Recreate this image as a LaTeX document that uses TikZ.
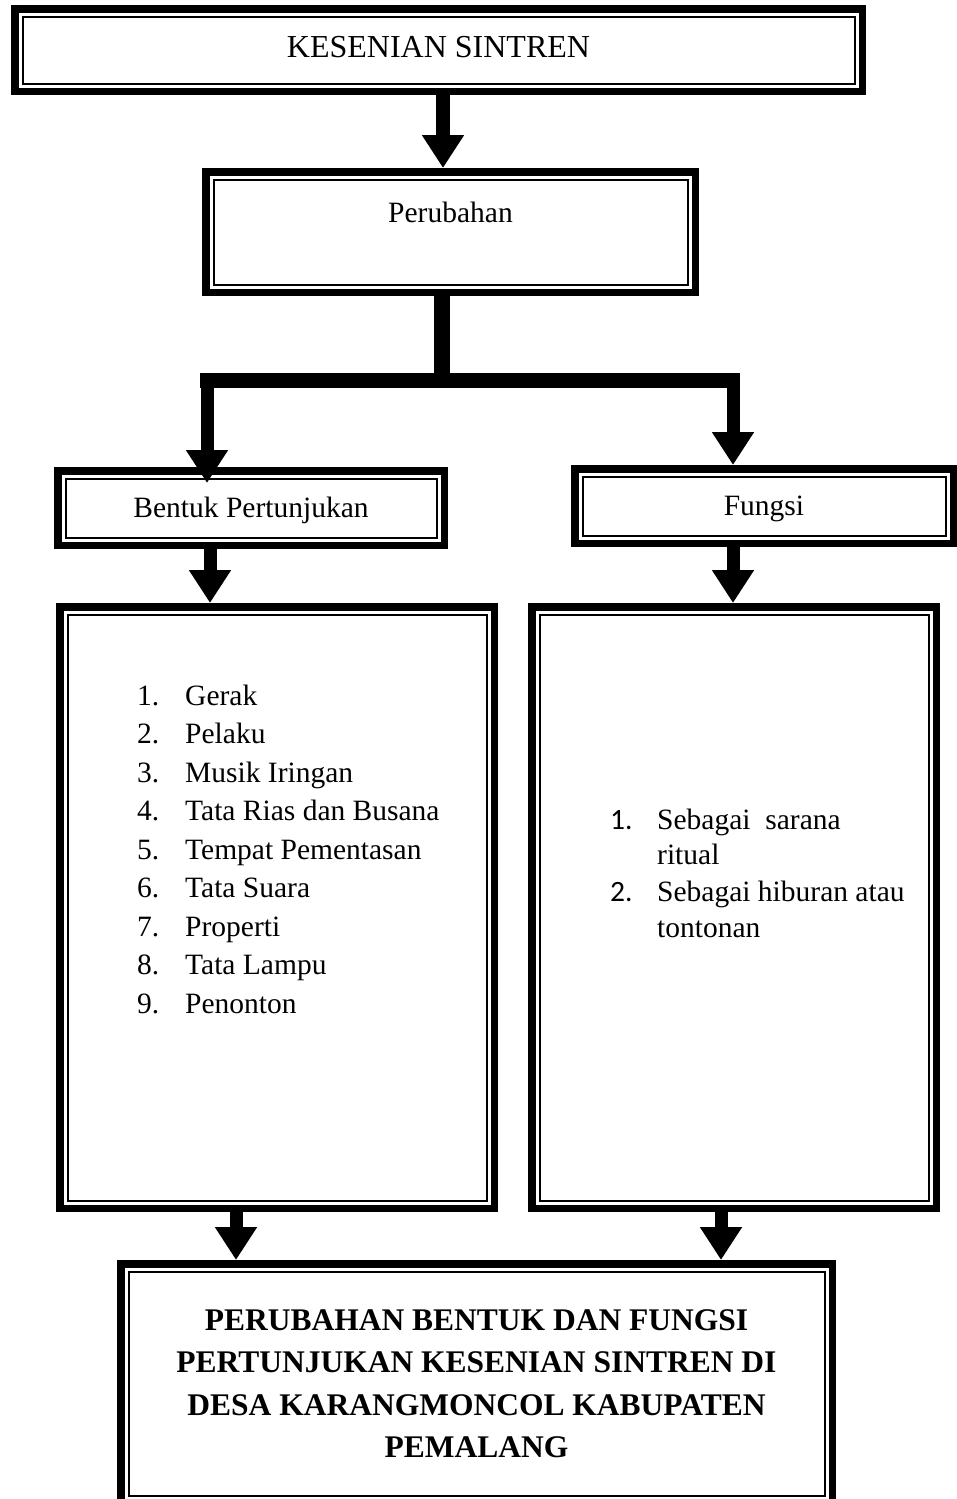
\documentclass[tikz,border=0pt]{standalone}
\usepackage{fontspec}
\setmainfont{Liberation Serif}
\newfontfamily\calib{Carlito}
\usetikzlibrary{arrows.meta}
\begin{document}
\begin{tikzpicture}[x=1pt,y=-1pt,
  frame/.style={draw, line width=7.5pt, inner sep=0pt, rectangle, font=\fontsize{29.5}{34}\selectfont},
  innerline/.style={line width=2pt},
  arr/.style={-{Triangle[width=40pt,length=33pt]}, line width=13pt},
  txt/.style={font=\fontsize{29.5}{34}\selectfont, inner sep=0pt},
  num/.style={font=\calib\fontsize{29.5}{34}\selectfont, inner sep=0pt}]
\useasboundingbox (0,0) rectangle (957,1499);
\clip (0,0) rectangle (957,1499);
% boxes
\node[frame, minimum width=847.5pt, minimum height=82.5pt, text height=14pt, text depth=0pt, font=\fontsize{32}{36}\selectfont] (t) at (438.5,50) {KESENIAN SINTREN};
\node[frame, minimum width=489.5pt, minimum height=120.5pt] (p) at (450.5,232) {};
\node[frame, minimum width=386.5pt, minimum height=74.5pt, text height=18pt, text depth=0pt] (b) at (251,508) {Bentuk Pertunjukan};
\node[frame, minimum width=378.5pt, minimum height=74.5pt, text height=18pt, text depth=0pt] (f) at (764,506) {Fungsi};
\node[frame, minimum width=434.5pt, minimum height=601.5pt] (l) at (277,907.5) {};
\node[frame, minimum width=404.5pt, minimum height=601.5pt] (r) at (734,907.5) {};
\node[frame, minimum width=711.5pt, minimum height=239.5pt, align=center, font=\bfseries\fontsize{31.5}{42.5}\selectfont] (z) at (476.5,1383.5) {PERUBAHAN BENTUK DAN FUNGSI\\PERTUNJUKAN KESENIAN SINTREN DI\\DESA KARANGMONCOL KABUPATEN\\PEMALANG};
\foreach \n in {t,p,b,f,l,r,z}
  \draw[innerline] ([shift={(11.5,11.5)}]\n.north west) rectangle ([shift={(-11.5,-11.5)}]\n.south east);
% texts
\node[txt, anchor=base] (pt) at (450.5,222) {Perubahan};
\foreach \i/\w in {1/Gerak,2/Pelaku,3/Musik Iringan,4/Tata Rias dan Busana,5/Tempat Pementasan,6/Tata Suara,7/Properti,8/Tata Lampu,9/Penonton}{
  \node[txt, anchor=base west] (ln\i) at (137,{705+38.5*(\i-1)}) {\i.};
  \node[txt, anchor=base west] (lt\i) at (185,{705+38.5*(\i-1)}) {\w};
}
\node[num, anchor=base west] (rn1) at (610,829) {1.};
\node[txt, anchor=base west] (rt1) at (657,829) {Sebagai\ \ sarana};
\node[txt, anchor=base west] (rt1b) at (657,864) {ritual};
\node[num, anchor=base west] (rn2) at (610,901) {2.};
\node[txt, anchor=base west] (rt2) at (657,901) {Sebagai hiburan atau};
\node[txt, anchor=base west] (rt2b) at (657,937) {tontonan};
% connectors
\coordinate (c1) at (443,0);
\draw[arr, line width=14pt] (t.south -| c1) -- (p.north -| c1);
\coordinate (j) at (442,380);
\coordinate (bl) at (200,380);
\coordinate (br) at (740,380);
\coordinate (dl) at (207,373);
\coordinate (dr) at (733,373);
\draw[line width=16pt] (p.south -| j) -- (j);
\draw[line width=15pt] (bl) -- (br);
\draw[arr, shorten >=-16pt] (dl) -- (dl |- b.north);
\draw[arr] (dr) -- (dr |- f.north);
\coordinate (c3) at (210,0);
\draw[arr] (b.south -| c3) -- (l.north -| c3);
\coordinate (c4) at (733,0);
\draw[arr] (f.south -| c4) -- (r.north -| c4);
\coordinate (c5) at (236,0);
\draw[arr] (l.south -| c5) -- (z.north -| c5);
\coordinate (c6) at (721,0);
\draw[arr] (r.south -| c6) -- (z.north -| c6);
\end{tikzpicture}
\end{document}
